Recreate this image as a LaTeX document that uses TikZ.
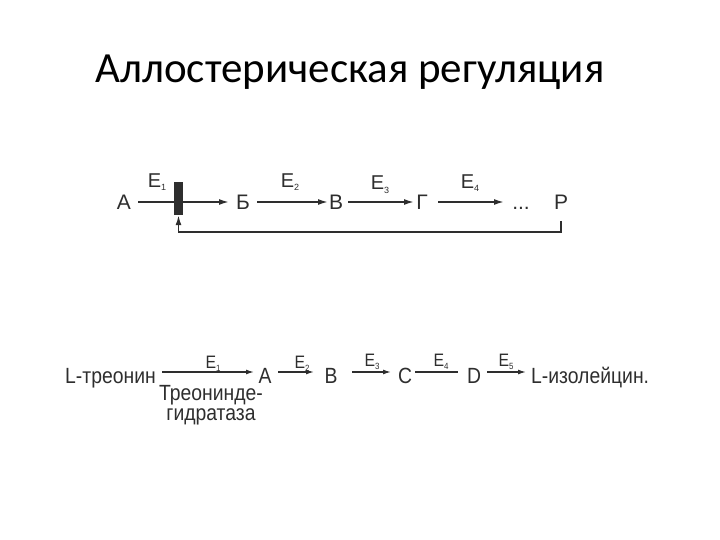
\documentclass[tikz,border=0pt]{standalone}
\usepackage{fontspec}
\setmainfont{Liberation Sans}
\newfontfamily\titlefont{Carlito}
\newfontfamily\narrowfont[FakeStretch=0.88]{Liberation Sans}
\usetikzlibrary{arrows.meta}
\definecolor{ink}{HTML}{2E2E2E}
\newcommand{\Elab}[1]{E\raisebox{-3pt}{\fontsize{9}{9}\selectfont #1}}
\begin{document}
\begin{tikzpicture}[x=1pt,y=-1pt,
  toplbl/.style={font=\fontsize{21}{22}\selectfont, text=ink, inner sep=0pt, anchor=base},
  botlbl/.style={font=\narrowfont\fontsize{22}{22}\selectfont, text=ink, inner sep=0pt, anchor=base},
  elbl/.style={font=\fontsize{20}{20}\selectfont, text=ink, inner sep=0pt, anchor=base},
  belbl/.style={font=\narrowfont\fontsize{18}{18}\selectfont, text=ink, inner sep=0pt, anchor=base},
  arr/.style={draw=ink, line width=1.6pt, -{Latex[length=10pt,width=6pt]}},
  barr/.style={draw=ink, line width=1.3pt, -{Latex[length=8pt,width=5pt]}},
  bline/.style={draw=ink, line width=1.3pt}]
\useasboundingbox (0,0) rectangle (720,540);

\node[font=\titlefont\fontsize{43}{50}\selectfont, inner sep=0pt, anchor=base] (title) at (350,83) {Аллостерическая регуляция};

% top chain
\node[toplbl] (A) at (124,210) {А};
\node[toplbl] (B) at (243,210) {Б};
\node[toplbl] (V) at (336,210) {В};
\node[toplbl] (G) at (422,210) {Г};
\node[toplbl] (dots) at (521,210) {...};
\node[toplbl] (P) at (561,210) {Р};
\node[fill=ink, minimum width=9pt, minimum height=33pt, inner sep=0pt] (bar) at (178.5,198.5) {};

\node[elbl] (E1) at (157,188) {\Elab{1}};
\node[elbl] (E2) at (290,188) {\Elab{2}};
\node[elbl] (E3) at (380,190) {\Elab{3}};
\node[elbl] (E4) at (470,189) {\Elab{4}};

\coordinate (a1s) at (138,202); \coordinate (a1e) at (229,202);
\draw[arr] (a1s) -- (a1e);
\coordinate (a2s) at (257,202); \coordinate (a2e) at (328,202);
\draw[arr] (a2s) -- (a2e);
\coordinate (a3s) at (348,202); \coordinate (a3e) at (414,202);
\draw[arr] (a3s) -- (a3e);
\coordinate (a4s) at (438,202); \coordinate (a4e) at (504,202);
\draw[arr] (a4s) -- (a4e);

\coordinate (fbtop) at (561,221);
\coordinate (fbcorner) at (561,232);
\draw[arr] (fbtop) -- (fbcorner) -| (bar.south);

% bottom chain
\node[botlbl, anchor=base west] (Lthr) at (65,383) {L-треонин};
\node[botlbl] (bA) at (265,383) {А};
\node[botlbl] (bB) at (331,383) {В};
\node[botlbl] (bC) at (405,383) {С};
\node[botlbl] (bD) at (474,383) {D};
\node[botlbl, anchor=base west] (Lile) at (531,383) {L-изолейцин.};
\node[botlbl] (thr1) at (211,400) {Треонинде-};
\node[botlbl] (thr2) at (211,420) {гидратаза};

\node[belbl] (bE1) at (213,368) {\Elab{1}};
\node[belbl] (bE2) at (302,368) {\Elab{2}};
\node[belbl] (bE3) at (372,366) {\Elab{3}};
\node[belbl] (bE4) at (441,366) {\Elab{4}};
\node[belbl] (bE5) at (506,366) {\Elab{5}};

\coordinate (b1s) at (162,372); \coordinate (b1e) at (254,372);
\draw[barr] (b1s) -- (b1e);
\coordinate (b2s) at (278,372); \coordinate (b2e) at (314,372);
\draw[barr] (b2s) -- (b2e);
\coordinate (b3s) at (352,372); \coordinate (b3e) at (391,372);
\draw[barr] (b3s) -- (b3e);
\coordinate (b4s) at (415,372); \coordinate (b4e) at (458,372);
\draw[bline] (b4s) -- (b4e);
\coordinate (b5s) at (487,372); \coordinate (b5e) at (526,372);
\draw[barr] (b5s) -- (b5e);
\end{tikzpicture}
\end{document}
